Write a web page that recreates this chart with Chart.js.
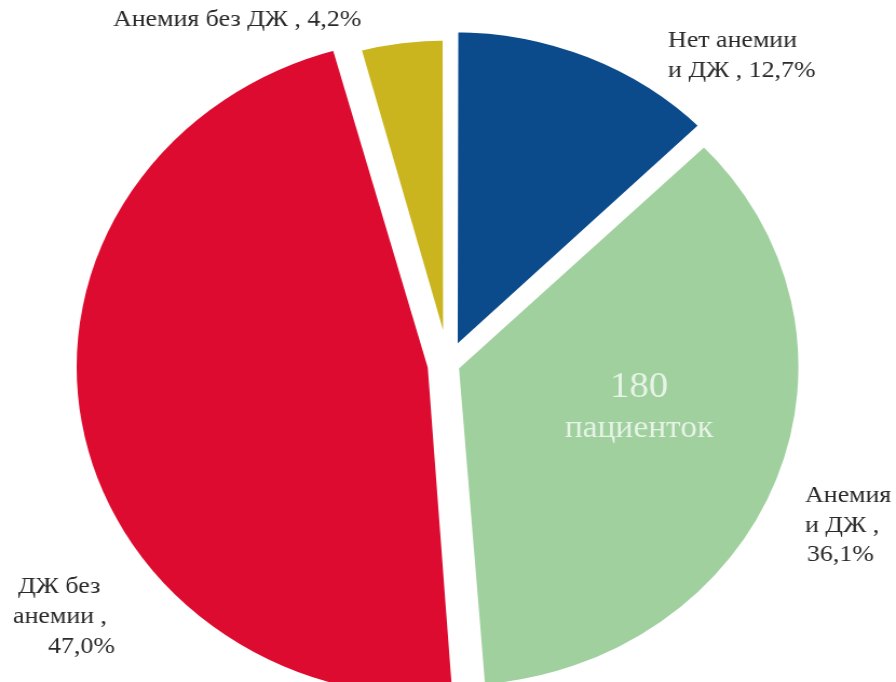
<!DOCTYPE html>
<html lang="ru">
<head>
<meta charset="utf-8">
<script src="https://cdn.jsdelivr.net/npm/chart.js@4.4.1/dist/chart.umd.min.js"></script>
<style>
  html, body { margin: 0; padding: 0; background: #ffffff; overflow: hidden; }
  #wrap { width: 830px; height: 682px; transform: scaleX(1.0795); transform-origin: 0 0; }
</style>
</head>
<body>
<div id="wrap"><canvas id="pie" width="830" height="682"></canvas></div>
<script>
// Structure of the group: share of each subgroup, %
const categories = ['Нет анемии и ДЖ', 'Анемия и ДЖ', 'ДЖ без анемии', 'Анемия без ДЖ'];
const shares = [12.7, 36.1, 47.0, 4.2];
// How each category caption is broken into lines ({v} = the share)
const captionLines = [
  ['Нет анемии', 'и ДЖ , {v}'],
  ['Анемия', 'и ДЖ ,', '{v}'],
  ['ДЖ без', 'анемии ,', '{v}'],
  ['Анемия без ДЖ , {v}']
];
const centerLines = ['180', 'пациенток'];

// Styling
const sliceColors = ['#0b4a8b', '#9fd09e', '#dc0b2f', '#cbb51f'];
const sliceOffsets = [51, 26, 60, 16];   // explode distance (Chart.js moves a slice by offset / 4)
const SX = 896 / 830;                    // horizontal stretch of the whole drawing
const captionFont = '24px "Liberation Serif", "Times New Roman", serif';
const captionPlaces = [                  // left x of each line, baseline y (page pixels)
  { x: [668, 668], y: [47, 77] },
  { x: [805, 805, 807], y: [502, 532, 561] },
  { x: [18, 13, 48], y: [593, 623, 653] },
  { x: [113], y: [26] }
];

function fmt(v) { return v.toFixed(1).replace('.', ',') + '%'; }

const captions = {
  id: 'captions',
  afterDraw(chart) {
    const ctx = chart.ctx;
    ctx.save();
    ctx.textBaseline = 'alphabetic';
    ctx.fillStyle = '#2a2a2a';
    ctx.font = captionFont;
    ctx.textAlign = 'left';
    captionLines.forEach((lines, i) => {
      const p = captionPlaces[i];
      lines.forEach((t, j) => {
        ctx.fillText(t.replace('{v}', fmt(shares[i])), p.x[j] / SX, p.y[j]);
      });
    });
    // group size, written inside the green slice
    ctx.textAlign = 'center';
    ctx.fillStyle = 'rgba(255,255,255,0.75)';
    ctx.font = '36px "Liberation Serif", "Times New Roman", serif';
    ctx.fillText(centerLines[0], 639 / SX, 397);
    ctx.font = '31px "Liberation Serif", "Times New Roman", serif';
    ctx.fillText(centerLines[1], 639 / SX, 437);
    ctx.restore();
  }
};

new Chart(document.getElementById('pie'), {
  type: 'pie',
  data: {
    labels: categories,
    datasets: [{
      data: shares,
      backgroundColor: sliceColors,
      borderColor: '#ffffff',
      borderWidth: 8,
      offset: sliceOffsets,
      hoverOffset: 0,
      clip: false
    }]
  },
  options: {
    responsive: false,
    animation: false,
    radius: 321,
    layout: { padding: { left: 0, right: 0, top: 47, bottom: 0 } },
    plugins: {
      legend: { display: false },
      tooltip: { enabled: false },
      title: { display: false }
    },
    events: []
  },
  plugins: [captions]
});
</script>
</body>
</html>
